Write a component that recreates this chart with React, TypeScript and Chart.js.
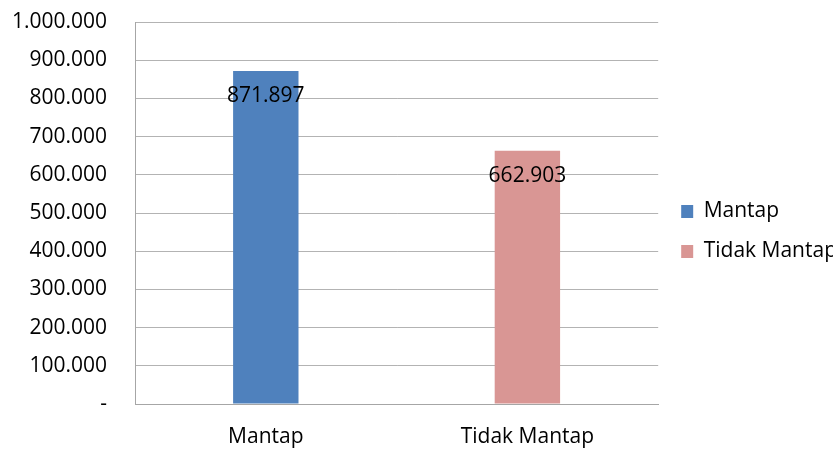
import React, { useEffect, useRef } from 'react';
import { Chart, registerables } from 'chart.js';

Chart.register(...registerables);

const categories: string[] = ['Mantap', 'Tidak Mantap'];
const values: number[] = [871897, 662903];
const barColors: string[] = ['#4F81BD', '#D99694'];
const yMin = 0;
const yMax = 1000000;
const yStep = 100000;

const FONT = '"Open Sans", sans-serif';
const FS = 21;

function fmt(v: number): string {
  if (v === 0) return '-';
  return String(Math.round(v)).replace(/\B(?=(\d{3})+(?!\d))/g, '.');
}

const dataLabelPlugin = {
  id: 'dataLabels',
  afterDatasetsDraw(chart: any) {
    const ctx = chart.ctx;
    const meta = chart.getDatasetMeta(0);
    ctx.save();
    ctx.font = `${FS}px ${FONT}`;
    ctx.fillStyle = '#000000';
    ctx.textAlign = 'center';
    ctx.textBaseline = 'middle';
    meta.data.forEach((bar: any, i: number) => {
      const v = chart.data.datasets[0].data[i] as number;
      ctx.fillText(fmt(v), bar.x, bar.y + 25);
    });
    ctx.restore();
  },
};

// widen the legend's reserved box a little (gap between plot and legend),
// then move the drawn legend back so its items stay where they were
const LEGEND_GAP = 4;
const legendGapPlugin = {
  id: 'legendGap',
  beforeLayout(chart: any) {
    const lg = chart.legend;
    if (lg && !lg.__gapPatched) {
      const orig = lg.fit.bind(lg);
      lg.fit = function () {
        orig();
        this.width += LEGEND_GAP;
      };
      lg.__gapPatched = true;
    }
  },
  afterLayout(chart: any) {
    const lg = chart.legend;
    if (lg) {
      lg.left += LEGEND_GAP;
      lg.right += LEGEND_GAP;
    }
  },
};

export default function App() {
  const ref = useRef<HTMLCanvasElement | null>(null);

  useEffect(() => {
    if (!ref.current) return;
    const chart = new Chart(ref.current, {
      type: 'bar',
      data: {
        labels: categories,
        datasets: [
          {
            label: 'Series',
            data: values,
            backgroundColor: barColors,
            borderWidth: 0,
            categoryPercentage: 0.5,
            barPercentage: 0.5,
          },
        ],
      },
      options: {
        responsive: false,
        animation: false,
        layout: { padding: { left: 12, right: -14, top: 14, bottom: 1 } },
        plugins: {
          legend: {
            position: 'right',
            align: 'center',
            labels: {
              boxWidth: 12,
              boxHeight: 13,
              padding: 19,
              color: '#000000',
              font: { size: FS, family: FONT },
              generateLabels: () =>
                categories.map((c, i) => ({
                  text: c,
                  fillStyle: barColors[i],
                  strokeStyle: barColors[i],
                  lineWidth: 0,
                  hidden: false,
                  index: i,
                  fontColor: '#000000',
                })),
            },
          },
          tooltip: { enabled: false },
        },
        scales: {
          x: {
            grid: { display: false, drawTicks: false },
            border: { display: true, color: '#A6A6A6' },
            ticks: { color: '#000000', font: { size: FS, family: FONT }, padding: 20 },
            afterFit: (scale: any) => {
              scale.height = 45;
              scale.paddingLeft = 0;
              scale.paddingRight = 0;
            },
          },
          y: {
            min: yMin,
            max: yMax,
            ticks: {
              stepSize: yStep,
              callback: (v: any) => fmt(Number(v)),
              color: '#000000',
              font: { size: FS, family: FONT },
              padding: 28,
            },
            grid: { color: '#B3B3B3', drawTicks: false },
            border: { display: true, color: '#A6A6A6' },
            afterFit: (scale: any) => {
              scale.width = 123;
              scale.paddingTop = 22;
              scale.paddingBottom = 0;
            },
          },
        },
      },
      plugins: [dataLabelPlugin, legendGapPlugin],
    });
    return () => chart.destroy();
  }, []);

  return (
    <div style={{ position: 'fixed', left: 0, top: 0, width: 833, height: 450, background: '#ffffff' }}>
      <canvas ref={ref} width={833} height={450} style={{ display: 'block' }} />
    </div>
  );
}
